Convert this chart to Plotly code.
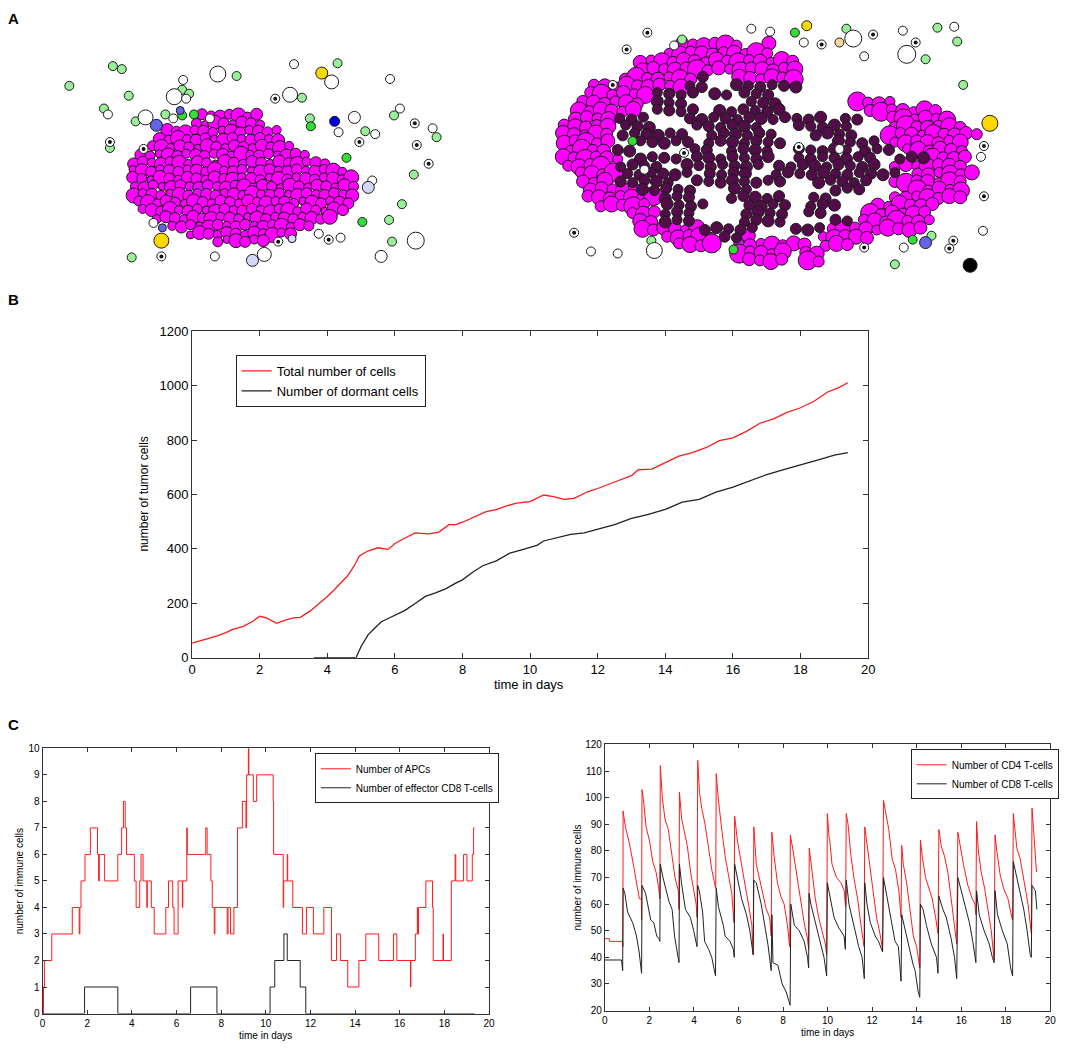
import plotly.graph_objects as go

W, H = 1084, 1058
FONT = "Liberation Sans, Arial, sans-serif"

# ---------------- Panel B data ----------------
tot_days = [0, 0.25, 0.5, 0.75, 1.0, 1.2, 1.5, 1.8, 2.0, 2.2, 2.5, 2.8, 3.0, 3.2, 3.5, 3.8, 4.0,
            4.2, 4.4, 4.6, 4.8, 4.95, 5.2, 5.5, 5.8, 6.0, 6.3, 6.6, 7.0, 7.3, 7.6, 7.8, 8.0, 8.4,
            8.7, 9.0, 9.3, 9.6, 10.0, 10.4, 10.7, 11.0, 11.3, 11.7, 12.0, 12.5, 13.0, 13.2, 13.6,
            14.0, 14.4, 14.8, 15.2, 15.6, 16.0, 16.4, 16.8, 17.2, 17.6, 18.0, 18.4, 18.8, 19.1, 19.4]
tot_vals = [53, 62, 71, 80, 92, 104, 114, 134, 152, 146, 126, 140, 146, 148, 172, 202, 225,
            249, 277, 301, 338, 374, 392, 404, 398, 420, 440, 459, 455, 462, 489, 489, 498, 519,
            537, 544, 558, 568, 574, 598, 592, 582, 586, 610, 622, 646, 669, 691, 693,
            717, 741, 754, 772, 798, 808, 832, 862, 878, 902, 919, 943, 977, 991, 1011]
dorm_days = [3.6, 4.85, 5.0, 5.2, 5.4, 5.6, 5.8, 6.0, 6.3, 6.6, 6.9, 7.2, 7.5, 7.8, 8.0, 8.3, 8.6,
             9.0, 9.4, 9.8, 10.2, 10.4, 10.8, 11.2, 11.6, 12.0, 12.5, 13.0, 13.5, 14.0, 14.5,
             15.0, 15.5, 16.0, 16.5, 17.0, 17.5, 18.0, 18.5, 19.0, 19.4]
dorm_vals = [0, 0, 41, 83, 108, 132, 144, 156, 174, 199, 225, 238, 253, 274, 286, 314, 338,
             356, 384, 398, 413, 429, 441, 453, 459, 473, 489, 512, 527, 545, 572,
             582, 609, 627, 651, 673, 691, 708, 726, 745, 754]

# ---------------- Panel C left data (step series) ----------------
apc_t = [0, 0.04, 0.08, 0.41, 1.33, 1.64, 1.67, 1.72, 1.9, 2.14, 2.46, 2.51, 2.54, 2.78, 3.37,
         3.54, 3.62, 3.7, 3.76, 4.11, 4.19, 4.35, 4.41, 4.5, 4.67, 4.69, 4.87, 5.0, 5.52, 5.64,
         5.83, 5.89, 6.07, 6.26, 6.28, 6.46, 6.48, 7.31, 7.37, 7.54, 7.6, 7.69, 7.72, 8.27,
         8.31, 8.42, 8.57, 8.73, 8.95, 9.11, 9.14, 9.22, 9.24, 9.44, 9.59, 10.33, 10.35, 10.78,
         10.8, 10.96, 10.98, 11.21, 11.64, 11.82, 12.13, 12.6, 12.94, 13.17, 13.34, 13.67,
         14.17, 14.48, 15.06, 15.72, 15.87, 16.48, 16.5, 16.7, 16.79, 16.81, 16.84, 17.17,
         17.47, 17.5, 17.94, 17.96, 18.31, 18.48, 18.51, 18.86, 19.01, 19.25, 19.31, 19.35]
apc_v = [0, 1, 2, 3, 4, 3, 4, 5, 6, 7, 6, 5, 6, 5, 6,
         7, 8, 7, 6, 5, 4, 5, 6, 5, 4, 5, 4, 3, 4, 5,
         4, 3, 5, 4, 5, 7, 6, 7, 6, 5, 4, 3, 4, 3,
         4, 3, 4, 7, 8, 7, 9, 10, 9, 8, 9, 8, 6, 4,
         5, 6, 5, 4, 3, 4, 3, 4, 2, 3, 2, 1,
         2, 3, 2, 3, 2, 1, 2, 3, 4, 3, 4, 5,
         4, 2, 3, 2, 5, 6, 5, 6, 5, 6, 7, 7]
eff_t = [0, 1.88, 3.37, 6.63, 7.81, 10.19, 10.4, 10.81, 10.96, 11.54, 11.79, 19.35]
eff_v = [0, 1, 0, 1, 0, 1, 2, 3, 2, 1, 0, 0]

# ---------------- Panel C right data ----------------
cd4_t = [0, 0.2, 0.21, 0.8, 0.81,
         0.82, 0.92, 1.1, 1.3, 1.45, 1.55, 1.64, 1.65,
         1.67, 1.75, 1.85, 2.0, 2.15, 2.3, 2.42, 2.47,
         2.49, 2.58, 2.7, 2.85, 3.0, 3.15, 3.3, 3.33,
         3.35, 3.45, 3.55, 3.7, 3.85, 4.0, 4.1, 4.14,
         4.17, 4.25, 4.35, 4.5, 4.65, 4.8, 4.95, 4.98,
         5.0, 5.1, 5.25, 5.4, 5.55, 5.7, 5.8,
         5.83, 5.95, 6.1, 6.3, 6.45, 6.6, 6.66,
         6.69, 6.8, 6.95, 7.1, 7.25, 7.4, 7.47,
         7.5, 7.6, 7.75, 7.9, 8.05, 8.2, 8.3,
         8.33, 8.45, 8.6, 8.8, 8.95, 9.1, 9.15,
         9.18, 9.3, 9.45, 9.6, 9.75, 9.9, 9.96,
         9.99, 10.07, 10.1, 10.2, 10.4, 10.6, 10.75, 10.81,
         10.84, 10.92, 11.05, 11.2, 11.35, 11.5, 11.64,
         11.67, 11.75, 11.9, 12.05, 12.2, 12.35, 12.47,
         12.51, 12.6, 12.75, 12.9, 13.05, 13.2, 13.3,
         13.33, 13.4, 13.55, 13.7, 13.85, 14.0, 14.14,
         14.17, 14.25, 14.4, 14.55, 14.7, 14.85, 14.96,
         15.0, 15.1, 15.25, 15.4, 15.55, 15.7, 15.8,
         15.85, 15.95, 16.1, 16.3, 16.5, 16.62, 16.66,
         16.69, 16.77, 16.9, 17.05, 17.2, 17.35, 17.48,
         17.52, 17.6, 17.75, 17.9, 18.1, 18.25, 18.31,
         18.34, 18.4, 18.5, 18.65, 18.8, 19.0, 19.15,
         19.18, 19.25, 19.3, 19.38]
cd4_v = [47, 47, 46, 46, 44,
         95, 89, 83, 74, 66, 62, 62, 54,
         103, 98, 89, 84, 76, 72, 66, 62,
         112, 100, 92, 88, 79, 70, 65, 58,
         102, 92, 88, 82, 72, 64, 60, 55,
         114, 102, 96, 90, 82, 73, 67, 66,
         109, 99, 88, 78, 71, 64, 53,
         93, 84, 76, 67, 60, 52, 41,
         89, 75, 69, 64, 58, 55, 48,
         87, 78, 68, 63, 60, 52, 44,
         86, 80, 72, 60, 53, 47, 43,
         81, 72, 62, 55, 50, 45, 41,
         94, 85, 84, 75, 70, 68, 65, 59,
         94, 90, 78, 69, 62, 52, 44,
         89, 84, 75, 64, 55, 49, 43,
         99, 95, 88, 77, 73, 65, 55,
         82, 75, 68, 58, 48, 44, 36,
         84, 78, 70, 66, 62, 55, 49,
         88, 82, 78, 72, 62, 53, 45,
         87, 82, 75, 67, 62, 60, 56,
         91, 80, 72, 66, 58, 50, 39,
         86, 80, 71, 66, 62, 56, 54,
         94, 88, 81, 77, 69, 60, 49,
         96, 88, 80, 72]
cd8_t = [0, 0.75, 0.8,
         0.82, 0.9, 1.02, 1.25, 1.42, 1.54, 1.65,
         1.67, 1.83, 2.06, 2.2, 2.33, 2.43, 2.47,
         2.49, 2.61, 2.88, 3.02, 3.13, 3.29, 3.33,
         3.35, 3.44, 3.62, 3.84, 3.99, 4.14,
         4.17, 4.24, 4.39, 4.48, 4.66, 4.8, 4.97,
         5.0, 5.1, 5.32, 5.4, 5.62, 5.77, 5.81,
         5.83, 5.96, 6.14, 6.36, 6.51, 6.66,
         6.69, 6.8, 7.02, 7.22, 7.32, 7.47,
         7.5, 7.55, 7.77, 7.96, 8.14, 8.32,
         8.35, 8.51, 8.73, 8.95, 9.1, 9.15,
         9.17, 9.25, 9.47, 9.69, 9.84, 9.96,
         9.99, 10.14, 10.29, 10.51, 10.74, 10.8,
         10.84, 10.96, 11.18, 11.4, 11.55, 11.65,
         11.67, 11.77, 11.92, 12.14, 12.29, 12.47,
         12.51, 12.66, 12.85, 13.03, 13.18, 13.3,
         13.33, 13.48, 13.63, 13.85, 13.93, 14.07, 14.14,
         14.17, 14.29, 14.44, 14.66, 14.89, 14.96,
         15.0, 15.18, 15.33, 15.55, 15.7, 15.8,
         15.85, 16.0, 16.22, 16.37, 16.52, 16.66,
         16.69, 16.81, 17.03, 17.26, 17.4, 17.48,
         17.52, 17.63, 17.85, 18.07, 18.22, 18.31,
         18.34, 18.44, 18.59, 18.81, 18.96, 19.1, 19.15,
         19.18, 19.33, 19.4]
cd8_v = [39, 39, 35,
         66, 64, 57, 53, 48, 42, 34,
         67, 64, 54, 53, 48, 47, 46,
         75, 70, 61, 58, 48, 40, 38,
         75, 68, 58, 55, 50, 44,
         67, 65, 57, 46, 43, 40, 33,
         66, 59, 52, 48, 46, 43, 40,
         75, 70, 62, 56, 50, 41,
         69, 68, 60, 50, 45, 35,
         56, 38, 37, 30, 27, 22,
         60, 52, 50, 46, 40, 36,
         64, 60, 52, 45, 40, 33,
         68, 62, 55, 51, 48, 43,
         69, 60, 52, 44, 40, 32,
         68, 60, 53, 48, 46, 42,
         70, 63, 55, 46, 44, 31,
         56, 50, 45, 37, 35, 27, 25,
         60, 58, 52, 45, 40, 34,
         63, 58, 55, 47, 40, 32,
         70, 65, 58, 53, 46, 38,
         65, 56, 50, 45, 40, 38,
         65, 56, 50, 45, 36, 33,
         76, 72, 66, 58, 50, 41, 40,
         67, 65, 58]

# ---------------- Panel A data (pixel positions) ----------------
# tumour rows: (y, x_start, x_end)
left_tumor_rows = [(110, 200, 262), (118, 192, 264), (126, 165, 276), (134, 155, 284),
                   (142, 150, 290), (150, 136, 305), (158, 131, 325), (166, 128, 345),
                   (174, 130, 352), (182, 130, 358), (190, 131, 358), (198, 134, 356),
                   (206, 140, 342), (214, 152, 330), (222, 170, 312), (230, 186, 296),
                   (237, 216, 266)]
# right tumour rows: (y, x_start, x_end, kind) kind M = magenta, P = dormant
right_tumor_rows = [
    (38, 685, 745, "M"), (38, 770, 783, "M"),
    (47, 672, 775, "M"),
    (55, 640, 797, "M"),
    (63, 645, 800, "M"),
    (72, 625, 700, "M"), (72, 706, 712, "P"), (72, 740, 805, "M"),
    (80, 596, 688, "M"), (80, 690, 705, "P"), (80, 740, 800, "P"),
    (88, 590, 655, "M"), (88, 660, 700, "P"), (88, 715, 740, "P"), (88, 748, 775, "P"),
    (97, 582, 650, "M"), (97, 660, 690, "P"), (97, 752, 790, "P"), (97, 862, 900, "M"),
    (105, 578, 640, "M"), (105, 660, 700, "P"), (105, 720, 785, "P"), (105, 875, 950, "M"),
    (113, 575, 618, "M"), (113, 622, 655, "P"), (113, 690, 830, "P"), (113, 850, 870, "P"), (113, 895, 955, "M"),
    (121, 566, 612, "M"), (121, 625, 660, "P"), (121, 700, 760, "P"), (121, 800, 860, "P"), (121, 900, 975, "M"),
    (129, 562, 618, "M"), (129, 625, 690, "P"), (129, 712, 780, "P"), (129, 820, 860, "P"), (129, 892, 985, "M"),
    (137, 566, 618, "M"), (137, 640, 700, "P"), (137, 712, 790, "P"), (137, 840, 890, "P"), (137, 900, 970, "M"),
    (145, 570, 612, "M"), (145, 620, 640, "P"), (145, 695, 720, "P"), (145, 735, 780, "P"), (145, 800, 860, "P"), (145, 870, 900, "P"), (145, 910, 975, "M"),
    (153, 565, 630, "M"), (153, 640, 690, "P"), (153, 700, 780, "P"), (153, 800, 880, "P"), (153, 905, 930, "P"), (153, 935, 980, "M"),
    (161, 570, 612, "M"), (161, 620, 660, "P"), (161, 690, 770, "P"), (161, 780, 890, "P"), (161, 900, 975, "M"),
    (169, 580, 620, "M"), (169, 630, 690, "P"), (169, 710, 760, "P"), (169, 780, 900, "P"), (169, 920, 985, "M"),
    (177, 585, 612, "M"), (177, 620, 680, "P"), (177, 700, 790, "P"), (177, 820, 880, "P"), (177, 900, 975, "M"),
    (185, 590, 640, "M"), (185, 645, 700, "P"), (185, 735, 760, "P"), (185, 840, 870, "P"), (185, 920, 975, "M"),
    (193, 590, 660, "M"), (193, 665, 700, "P"), (193, 735, 790, "P"), (193, 815, 835, "P"), (193, 900, 975, "M"),
    (201, 600, 655, "M"), (201, 670, 710, "P"), (201, 750, 790, "P"), (201, 815, 840, "P"), (201, 880, 945, "M"),
    (209, 635, 660, "M"), (209, 665, 700, "P"), (209, 750, 790, "P"), (209, 810, 830, "P"), (209, 875, 940, "M"),
    (217, 640, 660, "M"), (217, 668, 700, "P"), (217, 745, 790, "P"), (217, 840, 860, "P"), (217, 866, 945, "M"),
    (225, 645, 700, "M"), (225, 705, 760, "P"), (225, 800, 828, "P"), (225, 835, 930, "M"),
    (233, 670, 720, "M"), (233, 725, 748, "P"), (233, 752, 762, "M"), (233, 825, 880, "M"),
    (241, 682, 720, "M"), (241, 740, 815, "M"), (241, 830, 855, "M"),
    (249, 740, 790, "M"), (249, 810, 830, "M"),
    (257, 750, 790, "M"), (257, 812, 830, "M"),
]
mag_sizes_left = [11, 9, 13, 10, 15, 9, 12, 10, 8, 14, 11, 9, 12]
mag_sizes_right = [13, 11, 16, 12, 19, 11, 14, 10, 17, 12, 15]
dorm_sizes = [11, 10, 11, 12, 10]

# scattered cells: x, y, diameter
lg_x = [110, 119, 66, 126, 180, 187, 235, 337, 301, 101, 163, 133, 309, 365, 394, 437, 107, 414, 402, 389, 392, 129,
        685, 851, 943, 963, 931, 969, 654, 900, 937]
lg_y = [60, 63, 80, 90, 84, 88, 70, 57, 92, 103, 109, 116, 113, 126, 110, 132, 143, 170, 200, 216, 238, 254,
        33, 22, 21, 35, 53, 79, 237, 261, 232]
bg_x = [180, 192, 310, 346, 362, 799, 635, 737, 918]
bg_y = [110, 109, 121, 153, 218, 26, 136, 246, 236]
wl_x = [216, 172, 143, 331, 289, 354, 416, 381, 263, 858, 912, 657]
wl_y = [68, 91, 112, 76, 89, 112, 237, 253, 251, 32, 48, 247]
wl_s = [16, 16, 15, 14, 15, 12, 17, 12, 14, 17, 18, 16]
ws_x = [293, 181, 184, 105, 171, 208, 390, 400, 338, 375, 433, 372, 151, 318, 340, 213,
        755, 774, 808, 677, 869, 908, 960, 593, 620, 909, 987, 989, 844, 647]
ws_y = [58, 74, 93, 109, 113, 113, 73, 103, 127, 129, 123, 176, 219, 230, 234, 253,
        22, 25, 36, 39, 50, 24, 20, 248, 250, 244, 152, 227, 144, 165]
dot_x = [274, 107, 141, 415, 359, 417, 429, 277, 328, 159,
         650, 629, 615, 826, 878, 921, 576, 869, 959, 955, 990, 990, 803, 687]
dot_y = [93, 137, 144, 118, 137, 140, 159, 238, 236, 253,
         26, 43, 79, 38, 28, 36, 229, 244, 237, 245, 141, 192, 142, 148]
yel_x = [321, 159, 811, 996]
yel_y = [67, 237, 19, 118]
yel_s = [12, 15, 10, 16]
blue_x = [154, 178, 160, 931]
blue_y = [120, 105, 224, 239]
blue_s = [12, 8, 8, 12]
dblue_x = [334]
dblue_y = [116]
lav_x = [368, 291, 251]
lav_y = [183, 235, 257]
lav_s = [12, 8, 12]
peach_x = [844]
peach_y = [36]
blk_x = [976]
blk_y = [262]


def fill_rows(rows, sizes, step, kind=None):
    xs, ys, ss = [], [], []
    k = 0
    for i, row in enumerate(rows):
        if kind is not None and row[3] != kind:
            continue
        y, x0, x1 = row[0], row[1], row[2]
        off = (step / 2.0) if (i % 2) else 0.0
        x = x0 + off * 0.5
        while x <= x1 + 0.5:
            xs.append(x)
            ys.append(y + ((k % 3) - 1) * 1.2)
            ss.append(sizes[k % len(sizes)])
            k += 1
            x += step
    return xs, ys, ss


fig = go.Figure()
OUT = "#1a1a1a"


def cells(x, y, size, fill, lw=1.0, line=OUT):
    fig.add_trace(go.Scatter(x=x, y=y, mode="markers", xaxis="x4", yaxis="y4", showlegend=False,
                             hoverinfo="skip",
                             marker=dict(size=size, color=fill, opacity=1,
                                         line=dict(color=line, width=lw))))


# Panel A left tumour
lx, ly, ls = fill_rows(left_tumor_rows, mag_sizes_left, 9.2)
cells(lx, ly, ls, "#ff00ff")
# Panel A right tumour
mx, my, ms = fill_rows(right_tumor_rows, mag_sizes_right, 11.0, "M")
cells(mx, my, ms, "#ff00ff")
px_, py_, ps_ = fill_rows(right_tumor_rows, dorm_sizes, 12.0, "P")
cells(px_, py_, ps_, "#520d49")
# scattered cells
cells(lg_x, lg_y, 9, "#98f098")
cells(bg_x, bg_y, 9, "#33dd33")
cells(wl_x, wl_y, wl_s, "#ffffff")
cells(ws_x, ws_y, 9, "#ffffff")
cells(dot_x, dot_y, 9, "#ffffff")
cells(dot_x, dot_y, 4, "#111111", lw=0)
cells(yel_x, yel_y, yel_s, "#ffd700")
cells(blue_x, blue_y, blue_s, "#6464e8")
cells(dblue_x, dblue_y, 10, "#0000dd")
cells(lav_x, lav_y, lav_s, "#d4d8f8")
cells(peach_x, peach_y, 9, "#f8d8a0")
cells(blk_x, blk_y, 14, "#000000")

RED = "#ff1a1a"
BLK = "#222222"

# Panel B
fig.add_trace(go.Scatter(x=tot_days, y=tot_vals, mode="lines", name="Total number of cells",
                         line=dict(color=RED, width=1.3), xaxis="x", yaxis="y", legend="legend"))
fig.add_trace(go.Scatter(x=dorm_days, y=dorm_vals, mode="lines", name="Number of dormant cells",
                         line=dict(color=BLK, width=1.3), xaxis="x", yaxis="y", legend="legend"))
# Panel C left
fig.add_trace(go.Scatter(x=apc_t, y=apc_v, mode="lines", name="Number of APCs", line_shape="hv",
                         line=dict(color=RED, width=1), xaxis="x2", yaxis="y2", legend="legend2"))
fig.add_trace(go.Scatter(x=eff_t, y=eff_v, mode="lines", name="Number of effector CD8 T-cells",
                         line_shape="hv", line=dict(color=BLK, width=1), xaxis="x2", yaxis="y2",
                         legend="legend2"))
# Panel C right
fig.add_trace(go.Scatter(x=cd4_t, y=cd4_v, mode="lines", name="Number of CD4 T-cells",
                         line=dict(color=RED, width=1), xaxis="x3", yaxis="y3", legend="legend3"))
fig.add_trace(go.Scatter(x=cd8_t, y=cd8_v, mode="lines", name="Number of CD8 T-cells",
                         line=dict(color=BLK, width=1), xaxis="x3", yaxis="y3", legend="legend3"))


def dx(a, b):
    return [a / W, b / W]


def dy(top, bottom):
    return [1 - bottom / H, 1 - top / H]


def ax(domain, rng, dtick, fs, ticklen, anchor):
    return dict(domain=domain, range=rng, dtick=dtick, showgrid=False, zeroline=False,
                showline=True, linecolor="#333333", linewidth=1, mirror="ticks", ticks="inside",
                ticklen=ticklen, tickcolor="#333333", tickfont=dict(size=fs, color="#000", family=FONT),
                anchor=anchor, fixedrange=True)


layout = dict(
    width=W, height=H, margin=dict(l=0, r=0, t=0, b=0), paper_bgcolor="white", plot_bgcolor="white",
    font=dict(family=FONT, color="#000"),
    xaxis=ax(dx(190, 873), [0, 20], 2, 13, 5, "y"),
    yaxis=ax(dy(329, 660), [0, 1200], 200, 13, 5, "x"),
    xaxis2=ax(dx(39, 490), [0, 20], 2, 10, 4, "y2"),
    yaxis2=ax(dy(752, 1021), [0, 10], 1, 10, 4, "x2"),
    xaxis3=ax(dx(607, 1057), [0, 20], 2, 10, 4, "y3"),
    yaxis3=ax(dy(748, 1018), [20, 120], 10, 10, 4, "x3"),
    xaxis4=dict(domain=[0, 1], range=[0, W], visible=False, anchor="y4", fixedrange=True),
    yaxis4=dict(domain=dy(0, 290), range=[290, 0], visible=False, anchor="x4", fixedrange=True),
    legend=dict(x=234 / W, y=1 - 353 / H, xanchor="left", yanchor="top", bordercolor="#222",
                borderwidth=1, bgcolor="white", font=dict(size=13, family=FONT),
                tracegroupgap=0, itemwidth=30),
    legend2=dict(x=314 / W, y=1 - 757 / H, xanchor="left", yanchor="top", bordercolor="#222",
                 borderwidth=1, bgcolor="white", font=dict(size=10, family=FONT),
                 tracegroupgap=0, itemwidth=30),
    legend3=dict(x=916 / W, y=1 - 753 / H, xanchor="left", yanchor="top", bordercolor="#222",
                 borderwidth=1, bgcolor="white", font=dict(size=10, family=FONT),
                 tracegroupgap=0, itemwidth=30),
)
fig.update_layout(**layout)


def ann(text, x, y, size, angle=0, bold=False):
    fig.add_annotation(text=("<b>%s</b>" % text) if bold else text, x=x / W, y=1 - y / H,
                       xref="paper", yref="paper", showarrow=False, textangle=angle,
                       font=dict(size=size, family=FONT, color="#000"), xanchor="center",
                       yanchor="middle")


ann("A", 10, 12, 15, bold=True)
ann("B", 10, 297, 15, bold=True)
ann("C", 10, 728, 15, bold=True)
ann("number of tumor cells", 141, 494, 12, angle=-90)
ann("time in days", 530, 687, 13)
ann("number of immune cells", 16, 887, 10, angle=-90)
ann("time in days", 264, 1043, 10)
ann("number of immune cells", 579, 883, 10, angle=-90)
ann("time in days", 832, 1040, 10)

fig.write_html("out.html", config={"displayModeBar": False},
               post_script="document.body.style.margin='0';document.body.style.overflow='hidden';")
